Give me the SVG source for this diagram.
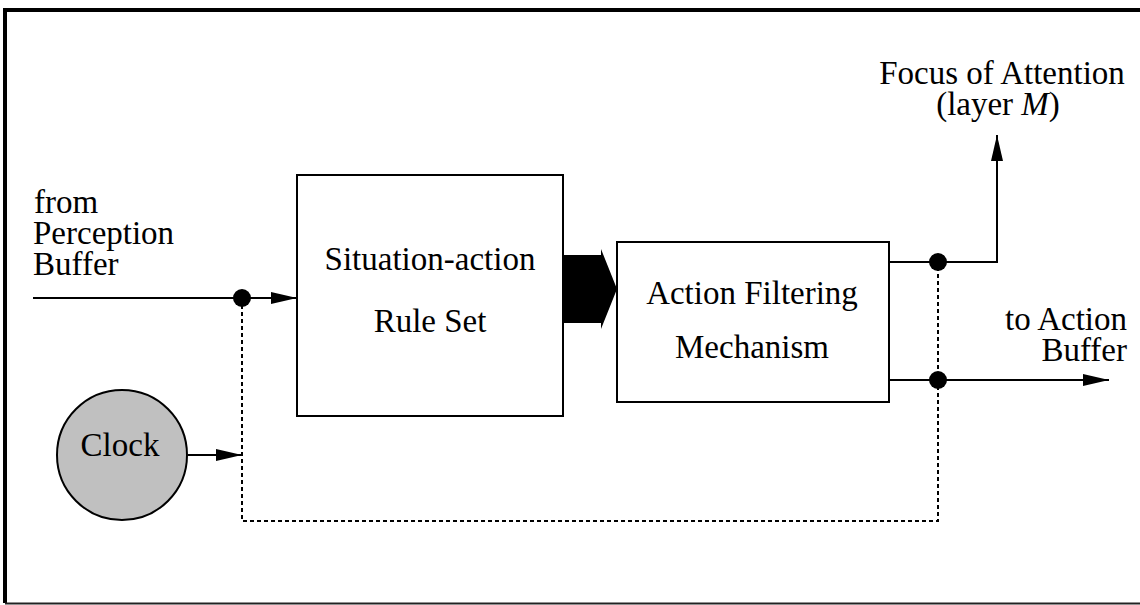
<svg xmlns="http://www.w3.org/2000/svg" width="1140" height="605" viewBox="0 0 1140 605">
  <style>
    text { font-family: 'Liberation Serif', 'Times New Roman', serif; font-size: 33px; fill: #000; }
    .box { fill: #fff; stroke: #000; stroke-width: 2; }
    .wire { fill: none; stroke: #000; stroke-width: 2; }
    .dot { fill: none; stroke: #000; stroke-width: 2; stroke-dasharray: 4 3; }
    .node { fill: #000; }
  </style>
  <defs>
    <marker id="arr" viewBox="0 0 26 12" refX="26" refY="6" markerWidth="26" markerHeight="12" markerUnits="userSpaceOnUse" orient="auto">
      <path d="M0,0 L26,6 L0,12 Z" fill="#000"/>
    </marker>
  </defs>

  <rect width="1140" height="605" fill="#fff"/>

  <!-- outer frame -->
  <g id="frame">
    <path d="M5,603 L5,10 L1140,10" fill="none" stroke="#000" stroke-width="4"/>
    <line x1="5" y1="603.5" x2="1140" y2="603.5" stroke="#222" stroke-width="2"/>
  </g>

  <!-- connectors -->
  <g id="connectors">
    <!-- perception input -->
    <line class="wire" x1="33" y1="298" x2="297" y2="298" marker-end="url(#arr)"/>
    <!-- clock signal distribution -->
    <path class="dot" d="M242,298 L242,521 L938,521 L938,262"/>
    <line class="wire" x1="188" y1="455" x2="242" y2="455" marker-end="url(#arr)"/>
    <!-- broad rule-set to filter arrow -->
    <path d="M563,255 L601,255 L601,249 L617,289 L601,329 L601,323 L563,323 Z" fill="#000"/>
    <!-- focus of attention output -->
    <path class="wire" d="M889,262 L997,262 L997,135" marker-end="url(#arr)"/>
    <!-- action output -->
    <line class="wire" x1="889" y1="380" x2="1109" y2="380" marker-end="url(#arr)"/>
    <circle class="node" cx="242" cy="298" r="9"/>
    <circle class="node" cx="938" cy="262" r="9"/>
    <circle class="node" cx="938" cy="380" r="9"/>
  </g>

  <g id="rule-set">
    <rect class="box" x="297" y="175" width="266" height="241"/>
    <text x="430" y="270" text-anchor="middle">Situation-action</text>
    <text x="430" y="332" text-anchor="middle">Rule Set</text>
  </g>

  <g id="filter">
    <rect class="box" x="617" y="242" width="272" height="160"/>
    <text x="752" y="304" text-anchor="middle">Action Filtering</text>
    <text x="752" y="358" text-anchor="middle">Mechanism</text>
  </g>

  <g id="clock">
    <circle cx="122" cy="455" r="65" fill="#c0c0c0" stroke="#000" stroke-width="2"/>
    <text x="120" y="456" text-anchor="middle">Clock</text>
  </g>

  <g id="perception-label">
    <text x="34" y="213">from</text>
    <text x="33" y="244">Perception</text>
    <text x="33" y="275">Buffer</text>
  </g>

  <g id="focus-label">
    <text x="1002" y="84" text-anchor="middle">Focus of Attention</text>
    <text x="998" y="115" text-anchor="middle">(layer <tspan font-style="italic">M</tspan>)</text>
  </g>

  <g id="action-buffer-label">
    <text x="1127" y="330" text-anchor="end">to Action</text>
    <text x="1127" y="361" text-anchor="end">Buffer</text>
  </g>
</svg>
